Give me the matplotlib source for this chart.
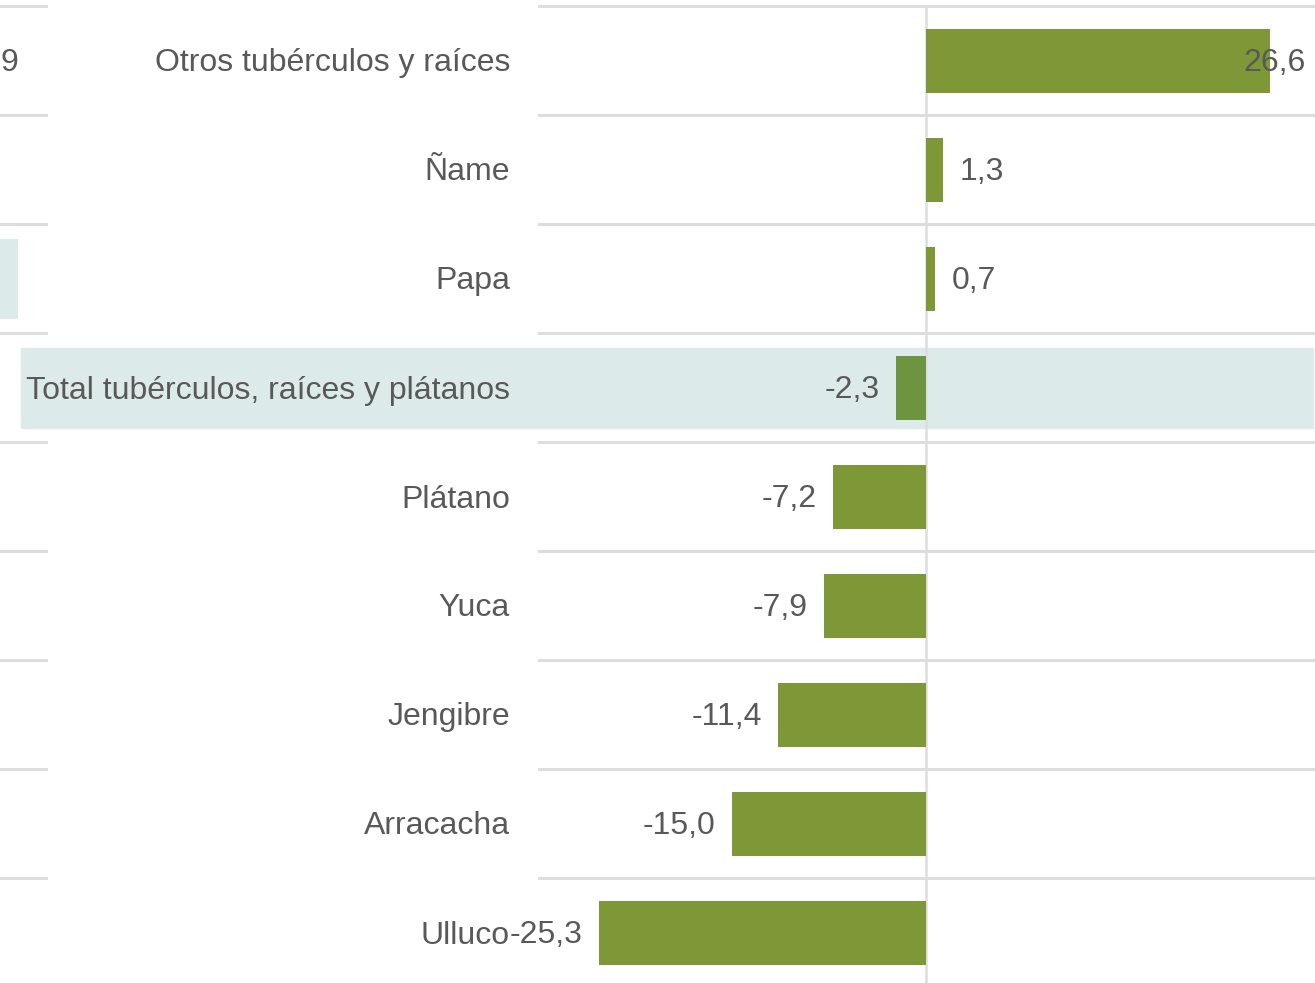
import matplotlib.pyplot as plt
from matplotlib.patches import Rectangle

plt.rcParams['font.family'] = ['Liberation Sans', 'DejaVu Sans']

categorias = ["Otros tubérculos y raíces", "Ñame", "Papa",
              "Total tubérculos, raíces y plátanos", "Plátano", "Yuca",
              "Jengibre", "Arracacha", "Ulluco"]
variacion = [26.6, 1.3, 0.7, -2.3, -7.2, -7.9, -11.4, -15.0, -25.3]
total_idx = 3
# partial neighbouring chart at the left edge
vecino_texto = "9"
vecino_resaltado = 2

W, H = 1315, 983
fig = plt.figure(figsize=(W / 100, H / 100), dpi=100)

gris_txt = "#595959"
gris_linea = "#DDDDDD"
verde = "#7E9838"
verde_total = "#6D943E"
celeste = "#DDEAEA"
fs = 23

n = len(categorias)
y0, paso = 61, 109
ylim = ((H - y0) / paso, -y0 / paso)
dy = 2.5 / paso  # small text nudge downward

def fy(i):
    # row index -> figure fraction
    return 1 - (y0 + paso * i) / H

# highlight band for the total row
fig.patches.append(Rectangle((21 / W, fy(total_idx) - 40 / H), (1313 - 21) / W, 80 / H,
                             transform=fig.transFigure, color=celeste, zorder=-1))

# main axes
ax = fig.add_axes([538 / W, 0, (W - 538) / W, 1])
ax.set_facecolor("none")
ax.set_xlim(-30, 30.1)
ax.set_ylim(*ylim)
for k in range(n + 1):
    ax.axhline(k - 0.5, color=gris_linea, lw=2.2, zorder=1)
ax.axvline(0, ymin=1 - 6 / H, ymax=0, color=gris_linea, lw=1.8, zorder=1)

colores = [verde_total if i == total_idx else verde for i in range(n)]
ax.barh(range(n), variacion, height=0.595, color=colores, zorder=2)

for i, v in enumerate(variacion):
    txt = f"{v:.1f}".replace(".", ",")
    if v > 25:
        ax.text(29.4, i + dy, txt, ha="right", va="center", fontsize=fs, color=gris_txt, zorder=3)
    elif v >= 0:
        ax.text(v + 1.3, i + dy, txt, ha="left", va="center", fontsize=fs, color=gris_txt, zorder=3)
    else:
        ax.text(v - 1.25, i + dy, txt, ha="right", va="center", fontsize=fs, color=gris_txt, zorder=3)
ax.axis("off")

# category labels
for i, c in enumerate(categorias):
    fig.text(510 / W, fy(i) - 2.5 / H, c, ha="right", va="center", fontsize=fs, color=gris_txt)

# left neighbour chart fragment
axl = fig.add_axes([0, 0, 48 / W, 1])
axl.set_facecolor("none")
axl.set_xlim(0, 48)
axl.set_ylim(*ylim)
for k in range(n + 1):
    axl.axhline(k - 0.5, color=gris_linea, lw=2.2, zorder=1)
axl.barh(vecino_resaltado, 18, left=0, height=80 / paso, color=celeste, zorder=0)
axl.text(18, dy, vecino_texto, ha="right", va="center", fontsize=fs, color=gris_txt, clip_on=False)
axl.axis("off")

fig.savefig("out.png", dpi=100)
